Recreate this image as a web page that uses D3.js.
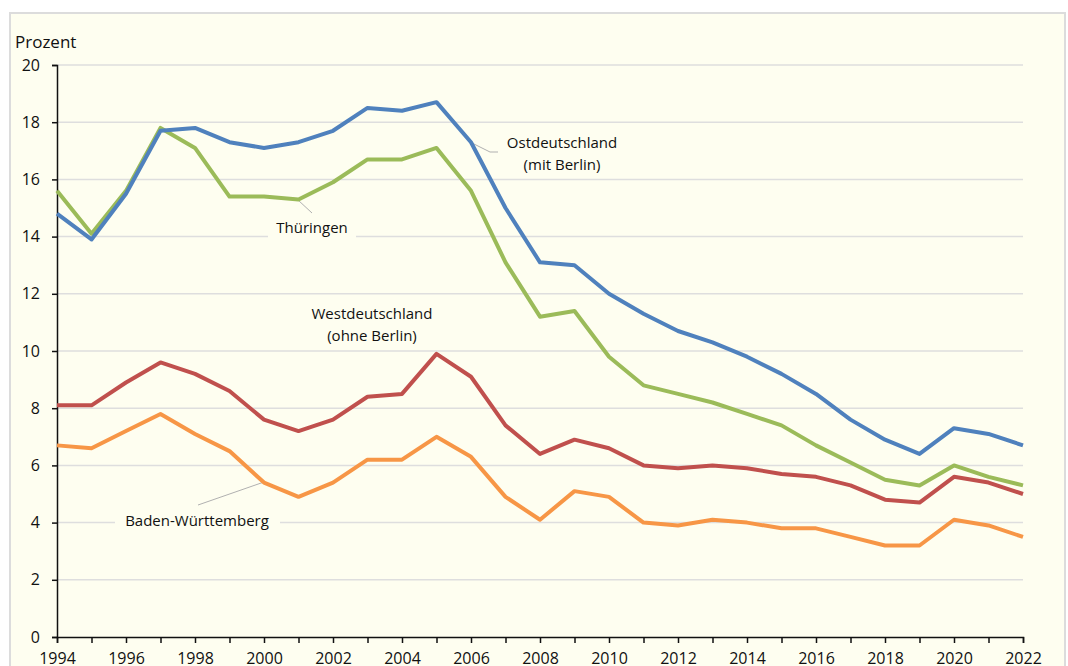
<!DOCTYPE html>
<html>
<head>
<meta charset="utf-8">
<script src="https://cdnjs.cloudflare.com/ajax/libs/d3/7.8.5/d3.min.js"></script>
<style>
  body { margin: 0; background: #fff; }
  svg text { font-family: "Open Sans", "Noto Sans", sans-serif; fill: #111; }
</style>
</head>
<body>
<div id="chart"></div>
<script>
  // values (Prozent)
  var years = d3.range(1994, 2023);
  var ost    = [14.8,13.9,15.5,17.7,17.8,17.3,17.1,17.3,17.7,18.5,18.4,18.7,17.3,15.0,13.1,13.0,12.0,11.3,10.7,10.3,9.8,9.2,8.5,7.6,6.9,6.4,7.3,7.1,6.7];
  var thuer  = [15.6,14.1,15.6,17.8,17.1,15.4,15.4,15.3,15.9,16.7,16.7,17.1,15.6,13.1,11.2,11.4,9.8,8.8,8.5,8.2,7.8,7.4,6.7,6.1,5.5,5.3,6.0,5.6,5.3];
  var west   = [8.1,8.1,8.9,9.6,9.2,8.6,7.6,7.2,7.6,8.4,8.5,9.9,9.1,7.4,6.4,6.9,6.6,6.0,5.9,6.0,5.9,5.7,5.6,5.3,4.8,4.7,5.6,5.4,5.0];
  var bawue  = [6.7,6.6,7.2,7.8,7.1,6.5,5.4,4.9,5.4,6.2,6.2,7.0,6.3,4.9,4.1,5.1,4.9,4.0,3.9,4.1,4.0,3.8,3.8,3.5,3.2,3.2,4.1,3.9,3.5];
  var yTicks = d3.range(0, 21, 2);
  var xLabels = d3.range(1994, 2023, 2);

  var W = 1068, H = 666;
  var svg = d3.select("#chart").append("svg").attr("width", W).attr("height", H);

  // frame
  svg.append("rect").attr("x", 10).attr("y", 13).attr("width", 1055).attr("height", 680)
    .attr("fill", "#fefef0").attr("stroke", "#dcdcdc").attr("stroke-width", 2);

  var x = d3.scaleLinear().domain([1994, 2022]).range([57, 1023]);
  var y = d3.scaleLinear().domain([0, 20]).range([637, 65]);

  // gridlines
  svg.append("g").selectAll("line").data(yTicks.filter(function(d){ return d > 0; }))
    .join("line")
    .attr("x1", x(1994)).attr("x2", x(2022))
    .attr("y1", function(d){ return y(d); }).attr("y2", function(d){ return y(d); })
    .attr("stroke", "#dedede").attr("stroke-width", 1.5);

  // label backgrounds that hide the gridlines
  var bgBoxes = [[268, 218, 88, 20], [115, 511, 165, 20]];
  svg.append("g").selectAll("rect").data(bgBoxes).join("rect")
    .attr("x", function(d){ return d[0]; }).attr("y", function(d){ return d[1]; })
    .attr("width", function(d){ return d[2]; }).attr("height", function(d){ return d[3]; })
    .attr("fill", "#fefef0");

  // y axis
  var yAxis = svg.append("g").attr("transform", "translate(" + x(1994) + ",0)")
    .call(d3.axisLeft(y).tickValues(yTicks).tickSize(5).tickPadding(12));
  yAxis.select(".domain").attr("stroke", "#111").attr("stroke-width", 1.5);
  yAxis.selectAll(".tick line").attr("stroke", "#111").attr("stroke-width", 1.5);
  yAxis.selectAll("text").style("font-size", "16px").attr("fill", "#111");

  // x axis
  var xAxis = svg.append("g").attr("transform", "translate(0," + y(0) + ")")
    .call(d3.axisBottom(x).tickValues(years).tickSize(6).tickPadding(10)
      .tickFormat(function(d){ return xLabels.indexOf(d) >= 0 ? d : ""; }));
  xAxis.select(".domain").attr("stroke", "#111").attr("stroke-width", 1.5);
  xAxis.selectAll(".tick line").attr("stroke", "#111").attr("stroke-width", 1.5);
  xAxis.selectAll("text").style("font-size", "16px").attr("fill", "#111");

  svg.append("text").attr("x", 15).attr("y", 48).style("font-size", "17px").text("Prozent");

  // leader lines
  var leaders = [
    [[472, 143], [490, 152], [498, 152]],
    [[298, 200], [312, 213]],
    [[264, 482], [198, 505]]
  ];
  svg.append("g").selectAll("path").data(leaders).join("path")
    .attr("d", d3.line()).attr("fill", "none").attr("stroke", "#b0b0b0").attr("stroke-width", 1);

  // series lines
  var series = [
    { vals: bawue, color: "#f79646" },
    { vals: west,  color: "#c0504d" },
    { vals: thuer, color: "#9bbb59" },
    { vals: ost,   color: "#4f81bd" }
  ];
  var line = d3.line()
    .x(function(d, i){ return x(years[i]); })
    .y(function(d){ return y(d); });
  svg.append("g").selectAll("path").data(series).join("path")
    .attr("d", function(d){ return line(d.vals); })
    .attr("fill", "none").attr("stroke", function(d){ return d.color; })
    .attr("stroke-width", 4).attr("stroke-linejoin", "round");

  // series labels
  var labels = [
    { lines: ["Ostdeutschland", "(mit Berlin)"], cx: 562, cy: 143 },
    { lines: ["Thüringen"], cx: 312, cy: 228 },
    { lines: ["Westdeutschland", "(ohne Berlin)"], cx: 372, cy: 314 },
    { lines: ["Baden-Württemberg"], cx: 197, cy: 521 }
  ];
  labels.forEach(function(l){
    l.lines.forEach(function(t, i){
      svg.append("text").attr("x", l.cx).attr("y", l.cy + i * 22)
        .attr("text-anchor", "middle").attr("dy", "0.35em")
        .style("font-size", "15px").text(t);
    });
  });
</script>
</body>
</html>
